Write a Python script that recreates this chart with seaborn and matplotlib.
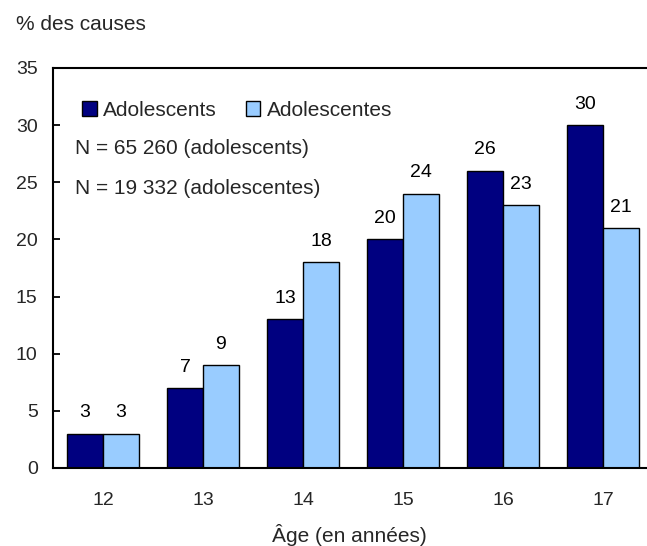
import matplotlib
matplotlib.use("Agg")
import matplotlib.pyplot as plt
import seaborn as sns
import pandas as pd
from matplotlib.patches import Patch

ages = ["12", "13", "14", "15", "16", "17"]
garcons = [3, 7, 13, 20, 26, 30]
filles = [3, 9, 18, 24, 23, 21]
series = ["Adolescents", "Adolescentes"]
colors = ["#000080", "#99CCFF"]

df = pd.DataFrame({
    "age": ages * 2,
    "pct": garcons + filles,
    "sexe": [series[0]] * len(ages) + [series[1]] * len(ages),
})

sns.set_theme(style="white")
plt.rcParams["font.family"] = ["Liberation Sans", "DejaVu Sans"]
FS = 14      # numbers
FT = 15      # words
plt.rcParams["font.size"] = FS

W, H = 647, 546
fig = plt.figure(figsize=(W / 100, H / 100), dpi=100)
# axes spans 600 px horizontally, so its right edge runs past the canvas
ax = fig.add_axes([53 / W, (H - 468) / H, 600 / W, 400 / H])

sns.barplot(data=df, x="age", y="pct", hue="sexe", order=ages,
            hue_order=series, palette=colors, width=0.72, gap=0,
            edgecolor="black", linewidth=1.0, saturation=1, ax=ax,
            legend=False, errorbar=None)

for cont in ax.containers:
    ax.bar_label(cont, fmt="%d", padding=9, fontsize=FS, color="black")

ax.set_ylim(0, 35)
ax.set_xlim(-0.5, 5.5)
ax.set_yticks(range(0, 36, 5))
ax.tick_params(axis="y", which="both", left=True, length=5, width=1.3,
               color="black", labelsize=FS, pad=11, direction="in")
ax.tick_params(axis="x", bottom=False, labelsize=FS, pad=11)
ax.set_xlabel("")
ax.set_ylabel("")
for s in ["left", "bottom", "top", "right"]:
    ax.spines[s].set_visible(True)
    ax.spines[s].set_color("black")
    ax.spines[s].set_linewidth(1.5)

handles = [Patch(facecolor=c, edgecolor="black", linewidth=1.0) for c in colors]
fig.legend(handles, series, ncol=2, loc="center left",
           bbox_to_anchor=(82 / W, 1 - 110 / H), frameon=False,
           handlelength=0.7, handleheight=0.7, handletextpad=0.3,
           columnspacing=1.4, fontsize=FT, borderpad=0, borderaxespad=0)

fig.text(75 / W, 1 - 149 / H, "N = 65 260 (adolescents)", fontsize=FT,
         va="center", ha="left")
fig.text(75 / W, 1 - 188 / H, "N = 19 332 (adolescentes)", fontsize=FT,
         va="center", ha="left")

fig.text(16 / W, 1 - 25 / H, "% des causes", fontsize=FT, va="center", ha="left")
fig.text(349 / W, 1 - 535 / H, "Âge (en années)", fontsize=FT, va="center", ha="center")

fig.savefig("out.png", dpi=100, facecolor="white")
